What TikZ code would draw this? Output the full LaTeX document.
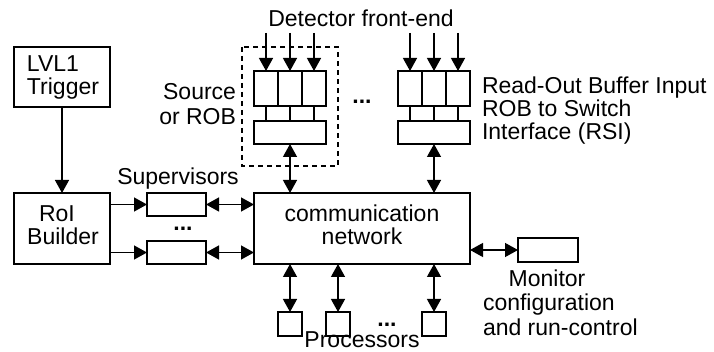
\documentclass[tikz,border=0pt]{standalone}
\usepackage{fontspec}
\setmainfont{Liberation Sans}
\usetikzlibrary{arrows.meta,calc}

\tikzset{
  box/.style={draw, line width=1.3pt, inner sep=0pt, outer sep=0pt},
  cell/.style={box, minimum width=24pt, minimum height=35pt},
  rsibox/.style={box, minimum width=72pt, minimum height=23pt},
  proc/.style={box, minimum width=24pt, minimum height=24pt},
  lbl/.style={inner sep=0pt, outer sep=0pt, font=\fontsize{23}{23}\selectfont},
  dots/.style={lbl, font=\fontsize{23}{23}\selectfont\bfseries},
  wire/.style={line width=1.3pt},
  arr/.style={wire, -{Triangle[length=13pt,width=14pt]}},
  biarr/.style={wire, {Triangle[length=13pt,width=14pt]}-{Triangle[length=13pt,width=14pt]}},
}

\begin{document}
\begin{tikzpicture}[x=1pt, y=-1pt]
\useasboundingbox (0,0) rectangle (714,352);

% trigger and region-of-interest builder
\node[box, minimum width=96pt, minimum height=60pt] (lvl1) at (62,77) {};
\node[lbl, anchor=base west] (lvl1a) at (27,72) {LVL1};
\node[lbl, anchor=base west] (lvl1b) at (27,95) {Trigger};
\node[box, minimum width=96pt, minimum height=71pt] (roi) at (62,228.5) {};
\node[lbl, anchor=base] (roia) at (57,222) {RoI};
\node[lbl, anchor=base] (roib) at (63,245) {Builder};
\draw[arr] (lvl1.south) -- (roi.north);

% supervisors
\node[box, minimum width=59pt, minimum height=23pt] (sup1) at (176.5,204.5) {};
\node[box, minimum width=59pt, minimum height=23pt] (sup2) at (176.5,252.5) {};
\node[lbl, anchor=base] (suplbl) at (178,185) {Supervisors};
\node[dots, anchor=base] (supdots) at (183,231) {...};

% communication network
\node[box, minimum width=216pt, minimum height=71pt] (comm) at (362,228.5) {};
\node[lbl, anchor=base] (comma) at (362,222) {communication};
\node[lbl, anchor=base] (commb) at (362,245) {network};

\draw[arr] (roi.east |- sup1) -- (sup1.west);
\draw[arr] (roi.east |- sup2) -- (sup2.west);
\draw[biarr] (sup1.east) -- (sup1 -| comm.west);
\draw[biarr] (sup2.east) -- (sup2 -| comm.west);

% first source (ROB) with its dashed outline
\draw[box, dash pattern=on 5pt off 4pt] (242,47) rectangle (338,166);
\node[cell] (a1) at (266,88.5) {};
\node[cell] (a2) at (290,88.5) {};
\node[cell] (a3) at (314,88.5) {};
\node[rsibox] (arsi) at (290,132.5) {};
\node[lbl, anchor=base east] (srca) at (236,100) {Source};
\node[lbl, anchor=base east] (srcb) at (236,125) {or ROB};

% second source
\node[cell] (b1) at (410,88.5) {};
\node[cell] (b2) at (434,88.5) {};
\node[cell] (b3) at (458,88.5) {};
\node[rsibox] (brsi) at (434,132.5) {};
\node[dots, anchor=base] (robdots) at (362,104) {...};

% detector inputs
\node[lbl, anchor=base] (det) at (361,27) {Detector front-end};
\foreach \c in {a1,a2,a3,b1,b2,b3} {
  \coordinate (in\c) at ($(\c.north)+(0,-38)$);
  \draw[arr] (in\c) -- (\c.north);
}
\foreach \c/\r in {a1/arsi,a2/arsi,a3/arsi,b1/brsi,b2/brsi,b3/brsi} {
  \draw[wire] (\c.south) -- (\c |- \r.north);
}
\draw[biarr] (arsi.south) -- (arsi |- comm.north);
\draw[biarr] (brsi.south) -- (brsi |- comm.north);

\node[lbl, anchor=base west] (robin) at (482,94) {Read-Out Buffer Input};
\node[lbl, anchor=base west] (rsia) at (482,117) {ROB to Switch};
\node[lbl, anchor=base west] (rsib) at (482,140) {Interface (RSI)};

% processors
\node[proc] (p1) at (290,324) {};
\node[proc] (p2) at (338,324) {};
\node[proc] (p3) at (434,324) {};
\node[dots, anchor=base] (pdots) at (387,326) {...};
\node[lbl, anchor=base] (plbl) at (362,347) {Processors};
\draw[biarr] (p1.north) -- (p1 |- comm.south);
\draw[biarr] (p2.north) -- (p2 |- comm.south);
\draw[biarr] (p3.north) -- (p3 |- comm.south);

% monitoring
\node[box, minimum width=60pt, minimum height=24pt] (mon) at (548,250) {};
\draw[biarr] (mon.west) -- (mon -| comm.east);
\node[lbl, anchor=base] (mona) at (547,287) {Monitor};
\node[lbl, anchor=base west] (monb) at (483,311) {configuration};
\node[lbl, anchor=base west] (monc) at (483,335) {and run-control};
\end{tikzpicture}
\end{document}
